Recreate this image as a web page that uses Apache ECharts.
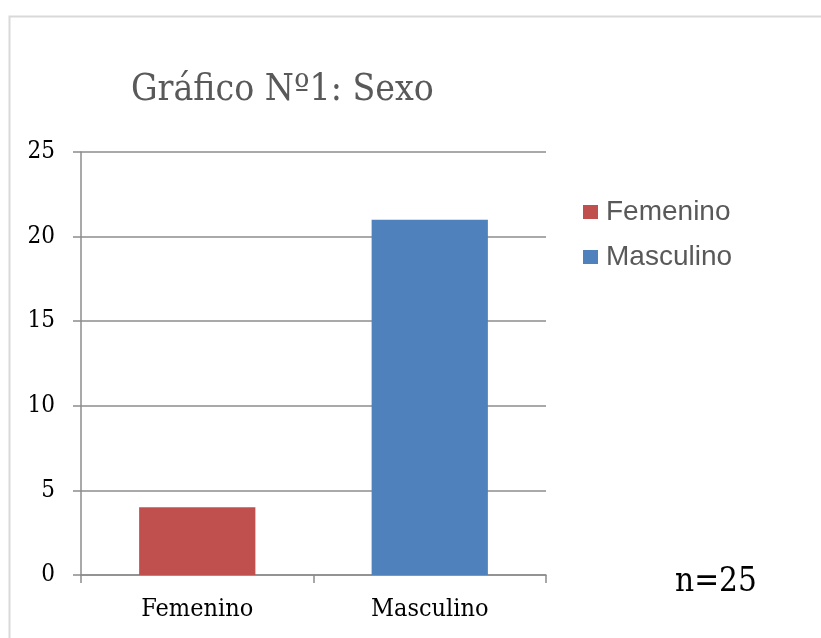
<!DOCTYPE html>
<html>
<head>
<meta charset="utf-8">
<script src="https://cdn.jsdelivr.net/npm/echarts@6/dist/echarts.min.js"></script>
<style>
  html, body { margin: 0; padding: 0; background: #fff; }
  #chart { width: 821px; height: 638px; }
</style>
</head>
<body>
<div id="chart"></div>
<script>
// data
const categories = ["Femenino", "Masculino"];
const femenino = [4, "-"];
const masculino = ["-", 21];
const yTicks = [0, 5, 10, 15, 20, 25];

const serif = "'DejaVu Serif Condensed', 'DejaVu Serif', serif";
const gridColor = "#8c8c8c";

const chart = echarts.init(document.getElementById("chart"));
chart.setOption({
  animation: false,
  title: {
    text: "Gráfico Nº1: Sexo",
    left: 126,
    top: 67,
    textStyle: {
      fontFamily: serif,
      fontWeight: "normal",
      fontSize: 37,
      color: "#595959"
    }
  },
  legend: {
    orient: "vertical",
    left: 578,
    top: 193,
    itemWidth: 15,
    itemHeight: 14,
    itemGap: 17,
    icon: "rect",
    textStyle: {
      fontFamily: "'Liberation Sans', Arial, sans-serif",
      fontSize: 28,
      color: "#595959",
      padding: [0, 0, 0, 3]
    },
    data: ["Femenino", "Masculino"]
  },
  grid: {
    left: 81,
    right: 275,
    top: 152,
    bottom: 63
  },
  xAxis: {
    type: "category",
    data: categories,
    axisLine: { lineStyle: { color: gridColor, width: 1.5 } },
    axisTick: { show: true, length: 8, alignWithLabel: false, lineStyle: { color: gridColor, width: 1.5 } },
    axisLabel: {
      margin: 22,
      fontFamily: serif,
      fontSize: 25,
      color: "#000"
    }
  },
  yAxis: {
    type: "value",
    min: yTicks[0],
    max: yTicks[yTicks.length - 1],
    interval: 5,
    axisLine: { show: true, lineStyle: { color: gridColor, width: 1.5 } },
    axisTick: { show: true, length: 8, lineStyle: { color: gridColor, width: 1.5 } },
    splitLine: { lineStyle: { color: gridColor, width: 1.5 } },
    axisLabel: {
      margin: 26,
      fontFamily: serif,
      fontSize: 24,
      color: "#000"
    }
  },
  series: [
    {
      name: "Femenino",
      type: "bar",
      data: femenino,
      barWidth: "50%",
      barGap: "-100%",
      itemStyle: { color: "#C0504D" }
    },
    {
      name: "Masculino",
      type: "bar",
      data: masculino,
      barWidth: "50%",
      barGap: "-100%",
      itemStyle: { color: "#4F81BD" }
    }
  ],
  graphic: [
    {
      type: "rect",
      left: 7,
      top: 14,
      shape: { width: 900, height: 700 },
      style: { fill: "none", stroke: "#d9d9d9", lineWidth: 2 },
      silent: true
    },
    {
      type: "text",
      left: 675,
      top: 566,
      style: {
        text: "n=25",
        fontFamily: serif,
        fontSize: 33,
        fill: "#000"
      }
    }
  ]
});
</script>
</body>
</html>
